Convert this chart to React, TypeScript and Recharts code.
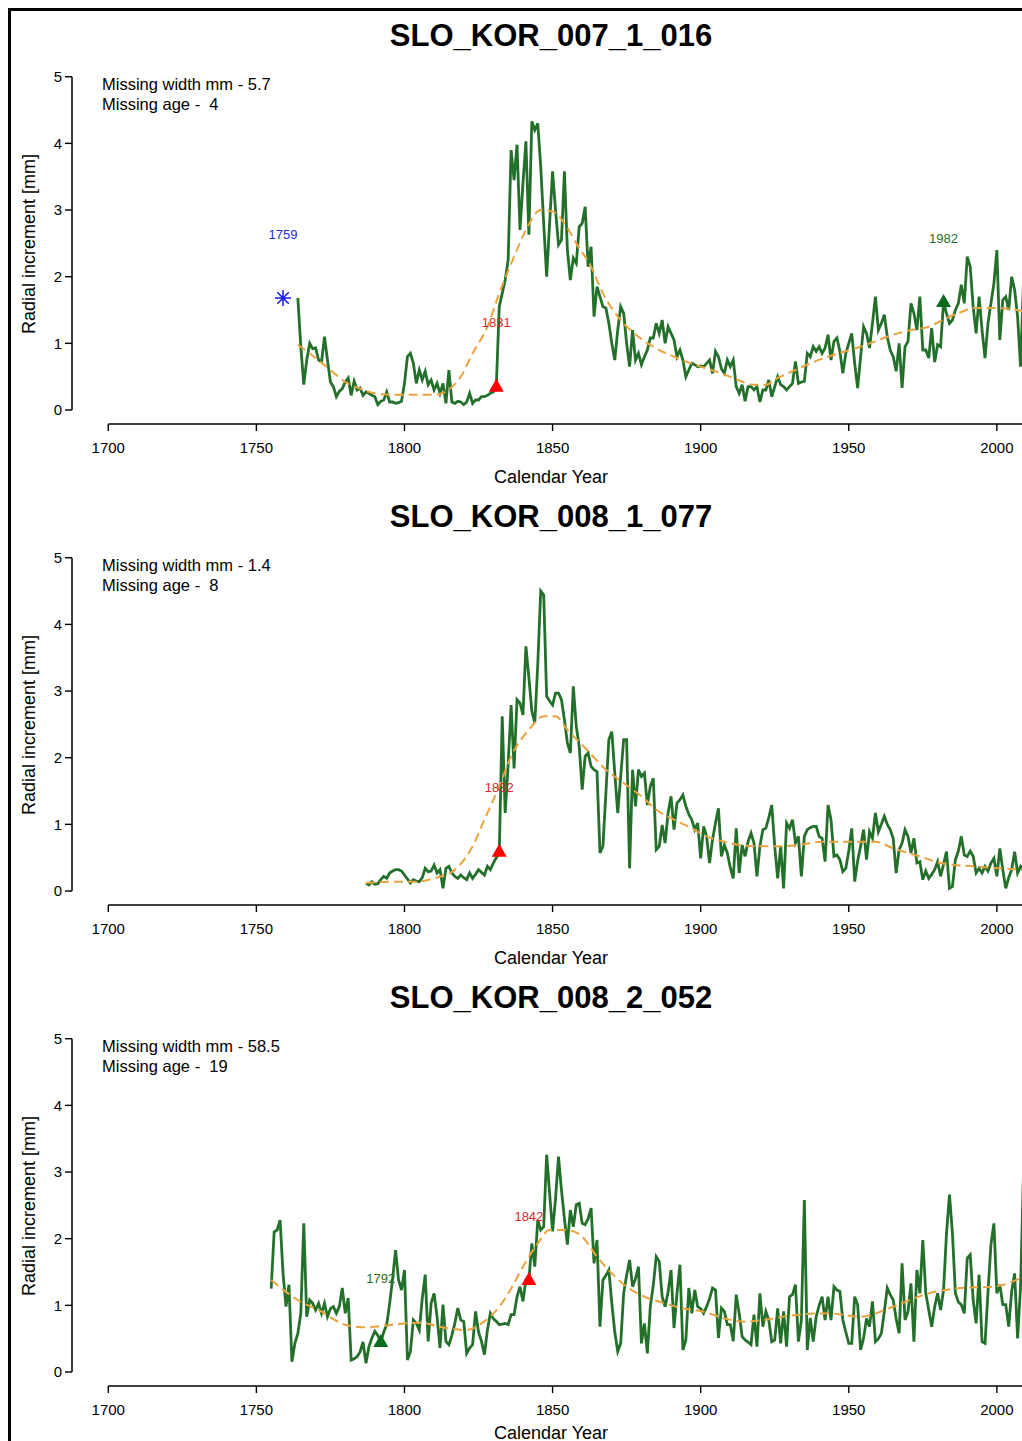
import { ComposedChart, Line, Scatter, XAxis, YAxis, ReferenceLine } from "recharts";

// axis ticks
const xTicks = [1700, 1750, 1800, 1850, 1900, 1950, 2000];
const yTicks = [0, 1, 2, 3, 4, 5];

// panel headings and notes
const titles = ["SLO_KOR_007_1_016", "SLO_KOR_008_1_077", "SLO_KOR_008_2_052"];
const missingWidth = ["5.7", "1.4", "58.5"];
const missingAge = ["4", "8", "19"];

// radial increments, one value per year
const firstYear1 = 1764;
const ring1 = [
  1.68, 0.95, 0.38, 0.75, 1.0, 0.92, 0.93, 0.75, 0.72, 1.1,
  0.75, 0.42, 0.35, 0.2, 0.28, 0.32, 0.42, 0.48, 0.22, 0.43,
  0.3, 0.33, 0.22, 0.27, 0.25, 0.22, 0.2, 0.08, 0.13, 0.15,
  0.27, 0.12, 0.12, 0.1, 0.11, 0.13, 0.4, 0.8, 0.85, 0.7,
  0.4, 0.6, 0.45, 0.58, 0.38, 0.45, 0.3, 0.4, 0.25, 0.4,
  0.1, 0.6, 0.12, 0.1, 0.13, 0.12, 0.08, 0.12, 0.25, 0.1,
  0.15, 0.15, 0.2, 0.2, 0.22, 0.25, 0.27, 0.35, 1.55, 1.75,
  1.95, 2.25, 3.9, 3.45, 3.98, 2.7, 3.4, 4.03, 2.63, 4.33,
  4.2, 4.3, 3.65, 2.8, 2.0, 2.8, 3.58, 3.0, 2.48, 2.55,
  3.58, 2.4, 1.95, 2.28, 2.2, 2.75, 2.8, 3.05, 2.15, 2.45,
  1.4, 1.85, 1.7, 1.55, 1.53, 1.3, 1.0, 0.75, 1.2, 1.55,
  1.45, 1.0, 0.65, 1.2, 0.75, 0.85, 0.68, 0.8, 0.9, 1.08,
  1.08, 1.3, 1.15, 1.35, 1.0, 1.25, 1.15, 1.05, 0.8, 0.9,
  0.75, 0.5, 0.6, 0.7, 0.68, 0.65, 0.66, 0.65, 0.7, 0.75,
  0.55, 0.88, 0.8, 0.62, 0.55, 0.75, 0.65, 0.75, 0.35, 0.25,
  0.38, 0.13, 0.35, 0.35, 0.3, 0.35, 0.12, 0.3, 0.3, 0.45,
  0.2, 0.35, 0.5, 0.38, 0.35, 0.3, 0.35, 0.4, 0.73, 0.4,
  0.42, 0.43, 0.85, 0.8, 0.95, 0.88, 0.95, 0.85, 0.93, 1.13,
  0.75, 1.03, 1.08, 0.88, 0.55, 0.85, 1.0, 1.15, 0.7, 0.33,
  0.8, 1.25, 1.15, 0.93, 1.3, 1.7, 1.2, 1.3, 1.43, 1.1,
  0.9, 0.8, 0.58, 1.0, 0.33, 0.95, 1.03, 1.6, 1.45, 1.2,
  1.7, 0.9, 0.9, 0.78, 1.23, 0.72, 0.98, 0.95, 1.62, 1.45,
  1.3, 1.35, 1.5, 1.6, 1.88, 1.6, 2.3, 2.15, 1.55, 1.15,
  1.7, 1.2, 0.78, 1.3, 1.6, 1.9, 2.4, 1.05, 1.65, 1.7,
  1.5, 2.0, 1.8, 1.4, 0.65, 1.95,
];

const firstYear2 = 1787;
const ring2 = [
  0.12, 0.09, 0.14, 0.1, 0.11, 0.17, 0.22, 0.19, 0.27, 0.3,
  0.32, 0.32, 0.3, 0.24, 0.18, 0.12, 0.17, 0.15, 0.14, 0.2,
  0.34, 0.29, 0.3, 0.39, 0.27, 0.32, 0.04, 0.34, 0.37, 0.27,
  0.22, 0.19, 0.24, 0.2, 0.17, 0.27, 0.19, 0.25, 0.32, 0.28,
  0.24, 0.37, 0.32, 0.42, 0.5, 0.57, 2.62, 1.17, 1.9, 2.79,
  1.84, 2.87, 2.82, 2.64, 3.67, 3.2, 2.7, 2.52, 3.4, 4.5,
  4.44, 2.92, 2.85, 2.79, 2.97, 2.97, 2.87, 2.57, 2.22, 2.07,
  3.07, 2.47, 2.17, 1.52, 2.02, 2.07, 1.87, 1.82, 1.79, 0.57,
  0.67, 1.47, 2.27, 2.39, 1.77, 1.17, 1.72, 2.27, 2.27, 0.34,
  1.82, 1.27, 1.82, 1.72, 1.77, 1.29, 1.57, 1.69, 0.62, 0.67,
  0.99, 0.72, 1.17, 1.42, 0.92, 1.32, 1.37, 1.44, 1.27, 1.15,
  1.07, 0.92, 1.02, 0.49, 0.97, 0.82, 0.42, 0.77, 1.02, 1.24,
  0.52, 0.69, 0.57, 0.35, 0.19, 0.94, 0.27, 0.69, 0.52, 0.74,
  0.87, 0.72, 0.22, 0.67, 0.92, 0.94, 1.1, 1.29, 0.67, 0.19,
  0.67, 0.04, 1.02, 0.94, 1.07, 0.72, 0.82, 0.22, 0.82, 0.92,
  0.95, 0.97, 0.97, 0.82, 0.79, 0.44, 1.29, 1.07, 0.52, 0.54,
  0.47, 0.29, 0.34, 0.6, 0.94, 0.14, 0.45, 0.67, 0.92, 0.47,
  0.89, 0.79, 1.17, 0.89, 1.0, 1.12, 1.0, 0.92, 0.79, 0.27,
  0.62, 0.72, 0.92, 0.82, 0.57, 0.79, 0.42, 0.44, 0.17, 0.3,
  0.19, 0.25, 0.32, 0.44, 0.22, 0.4, 0.59, 0.04, 0.07, 0.47,
  0.6, 0.82, 0.54, 0.52, 0.6, 0.52, 0.27, 0.34, 0.27, 0.37,
  0.3, 0.42, 0.49, 0.22, 0.64, 0.32, 0.04, 0.2, 0.32, 0.59,
  0.27, 0.37, 0.3,
];

const firstYear3 = 1755;
const ring3 = [
  1.25, 2.1, 2.13, 2.28, 1.48, 0.98, 1.31, 0.155, 0.43, 0.58,
  0.88, 2.23, 0.83, 1.08, 1.03, 0.93, 1.03, 0.88, 1.03, 0.83,
  0.95, 0.98, 0.88, 0.98, 1.26, 0.88, 1.11, 0.18, 0.2, 0.23,
  0.3, 0.45, 0.13, 0.38, 0.51, 0.61, 0.55, 0.45, 0.6, 0.71,
  1.03, 1.4, 1.83, 1.38, 1.23, 1.53, 0.18, 0.31, 0.78, 0.73,
  0.63, 1.1, 1.46, 0.46, 1.03, 1.18, 0.83, 0.36, 1.01, 0.46,
  0.41, 0.55, 0.73, 0.96, 0.78, 0.76, 0.28, 0.36, 0.41, 0.91,
  0.6, 0.46, 0.26, 0.63, 0.88, 0.8, 0.76, 0.71, 0.72, 0.73,
  0.71, 0.86, 0.86, 1.13, 1.28, 1.06, 1.38, 1.38, 1.93, 1.58,
  2.28, 2.13, 2.18, 3.26, 2.68, 2.11, 2.6, 3.23, 2.73, 2.3,
  1.91, 2.43, 2.18, 2.51, 2.53, 2.23, 2.21, 2.3, 2.46, 1.63,
  1.98, 0.68, 1.38, 1.45, 1.53, 1.03, 0.6, 0.31, 0.43, 1.18,
  1.45, 1.68, 1.28, 1.4, 1.58, 0.43, 0.73, 0.28, 0.98, 1.3,
  1.73, 1.66, 1.13, 0.98, 1.2, 1.53, 0.66, 1.18, 1.61, 0.33,
  0.48, 1.26, 0.88, 1.23, 0.98, 0.95, 0.88, 0.98, 1.1, 1.26,
  1.23, 0.51, 0.96, 0.91, 0.71, 0.71, 0.46, 1.16, 0.88, 0.53,
  0.48, 0.45, 0.41, 0.86, 0.38, 1.18, 0.68, 0.91, 0.78, 0.455,
  0.48, 0.955, 0.43, 0.91, 0.38, 1.13, 1.16, 1.31, 0.455, 0.78,
  2.58, 0.33, 0.81, 0.455, 0.83, 1.0, 1.13, 0.78, 1.13, 0.78,
  1.28, 1.23, 1.21, 0.78, 0.6, 0.43, 0.43, 1.13, 1.01, 0.33,
  0.505, 0.805, 0.68, 1.06, 0.455, 0.5, 0.58, 0.905, 1.26, 1.16,
  1.08, 0.8, 0.58, 1.63, 0.78, 0.905, 1.33, 0.455, 1.53, 1.18,
  1.98, 1.18, 0.93, 0.68, 0.98, 1.18, 0.93, 1.23, 2.08, 2.66,
  2.08, 1.18, 1.05, 1.01, 0.88, 1.71, 1.76, 1.08, 0.73, 1.46,
  0.455, 0.43, 1.2, 1.91, 2.23, 1.18, 1.31, 1.01, 1.01, 0.68,
  1.21, 1.48, 0.505, 1.28, 3.01,
];

// smoothed growth trend (dashed)
const smoothYears1 = [1764, 1770, 1775, 1780, 1785, 1790, 1795, 1800, 1805, 1810, 1814, 1819, 1823, 1828, 1832, 1837, 1841, 1846, 1850, 1854, 1858, 1863, 1867, 1873, 1879, 1884, 1891, 1898, 1905, 1911, 1918, 1922, 1926, 1932, 1937, 1943, 1948, 1954, 1960, 1965, 1971, 1977, 1983, 1988, 1992, 1999, 2004, 2009];
const smooth1 = [0.98, 0.78, 0.6, 0.42, 0.32, 0.25, 0.23, 0.23, 0.23, 0.23, 0.28, 0.5, 0.85, 1.25, 1.75, 2.3, 2.7, 3.0, 2.98, 2.8, 2.5, 2.15, 1.75, 1.35, 1.1, 0.95, 0.8, 0.68, 0.58, 0.48, 0.38, 0.38, 0.48, 0.6, 0.7, 0.8, 0.87, 0.95, 1.05, 1.13, 1.2, 1.25, 1.38, 1.47, 1.53, 1.53, 1.52, 1.48];

const smoothYears2 = [1787, 1795, 1804, 1810, 1817, 1823, 1827, 1832, 1836, 1842, 1847, 1851, 1855, 1862, 1868, 1874, 1880, 1885, 1891, 1897, 1902, 1908, 1913, 1919, 1926, 1933, 1941, 1952, 1959, 1965, 1974, 1981, 1992, 2001, 2009];
const smooth2 = [0.12, 0.14, 0.14, 0.19, 0.32, 0.67, 1.07, 1.57, 2.02, 2.42, 2.62, 2.62, 2.42, 2.1, 1.82, 1.62, 1.42, 1.22, 1.07, 0.94, 0.82, 0.74, 0.69, 0.67, 0.67, 0.69, 0.74, 0.74, 0.74, 0.64, 0.52, 0.42, 0.37, 0.34, 0.32];

const smoothYears3 = [1755, 1764, 1771, 1780, 1787, 1796, 1805, 1814, 1821, 1826, 1832, 1836, 1840, 1845, 1849, 1855, 1860, 1865, 1870, 1875, 1881, 1888, 1894, 1901, 1908, 1915, 1921, 1932, 1943, 1954, 1965, 1977, 1988, 1999, 2009];
const smooth3 = [1.38, 1.08, 0.93, 0.71, 0.67, 0.71, 0.74, 0.66, 0.63, 0.73, 0.98, 1.25, 1.58, 1.93, 2.13, 2.13, 2.03, 1.73, 1.48, 1.28, 1.13, 1.03, 0.955, 0.905, 0.805, 0.755, 0.78, 0.855, 0.88, 0.83, 0.98, 1.18, 1.26, 1.28, 1.43];

// marked years: pith estimate (star), release (red), other event (green)
const marks1 = [
  { year: 1759, value: 1.68, kind: "pith" },
  { year: 1831, value: 0.35, kind: "release" },
  { year: 1982, value: 1.62, kind: "event" },
];
const marks2 = [{ year: 1832, value: 0.59, kind: "release" }];
const marks3 = [
  { year: 1792, value: 0.45, kind: "event" },
  { year: 1842, value: 1.38, kind: "release" },
];

const FONT = '"Liberation Sans", Arial, Helvetica, sans-serif';
const X_DOMAIN = [1687.75, 2012.2];
const Y_DOMAIN = [-0.21, 5.2];
const GREEN = "#23702b";
const ORANGE = "#eaa23c";

const markColor: Record<string, string> = { pith: "#1414f0", release: "#ff0000", event: "#0b6a1e" };
const labelColor: Record<string, string> = { pith: "#2c2cc8", release: "#d62a2a", event: "#1f6e27" };

const byYear = (start: number, vals: number[]) => vals.map((v, i) => ({ year: start + i, value: v }));
const zip = (years: number[], vals: number[]) => years.map((y, i) => ({ year: y, value: vals[i] }));

const MarkerShape = (props: any) => {
  const { cx, cy, payload } = props;
  if (cx == null || cy == null) return null;
  const kind = payload.kind;
  const r = 8;
  const d = r * 0.72;
  return (
    <g>
      {kind === "pith" ? (
        <g stroke={markColor.pith} strokeWidth={1.5}>
          <line x1={cx - r} y1={cy} x2={cx + r} y2={cy} />
          <line x1={cx} y1={cy - r} x2={cx} y2={cy + r} />
          <line x1={cx - d} y1={cy - d} x2={cx + d} y2={cy + d} />
          <line x1={cx - d} y1={cy + d} x2={cx + d} y2={cy - d} />
        </g>
      ) : (
        <polygon
          points={`${cx},${cy - 8} ${cx - 7.5},${cy + 5} ${cx + 7.5},${cy + 5}`}
          fill={markColor[kind]}
        />
      )}
      <text x={cx} y={cy - 59.5} textAnchor="middle" fontSize={13} fill={labelColor[kind]} fontFamily={FONT}>
        {payload.year}
      </text>
    </g>
  );
};

const Panel = ({ title, width, age, ring, smooth, marks, xLabelShift }: any) => (
  <div style={{ position: "relative", width: 1025, height: 481 }}>
    <ComposedChart width={1025} height={481} margin={{ top: 55.4, right: 0, bottom: 25, left: 0 }}>
      <XAxis
        type="number"
        dataKey="year"
        domain={X_DOMAIN}
        allowDataOverflow
        ticks={xTicks}
        interval={0}
        axisLine={false}
        tickLine={{ stroke: "#000", strokeWidth: 1.4 }}
        tickSize={7}
        tickMargin={11}
        height={40}
        tick={{ fontSize: 15, fill: "#000", fontFamily: FONT }}
      />
      <YAxis
        type="number"
        domain={Y_DOMAIN}
        allowDataOverflow
        ticks={yTicks}
        interval={0}
        axisLine={false}
        tickLine={{ stroke: "#000", strokeWidth: 1.4 }}
        tickSize={7}
        tickMargin={3}
        width={64}
        tick={{ fontSize: 15, fill: "#000", fontFamily: FONT }}
      />
      <ReferenceLine
        segment={[{ x: 1700, y: Y_DOMAIN[0] }, { x: X_DOMAIN[1], y: Y_DOMAIN[0] }]}
        stroke="#000"
        strokeWidth={1.5}
        ifOverflow="visible"
      />
      <ReferenceLine
        segment={[{ x: X_DOMAIN[0], y: 0 }, { x: X_DOMAIN[0], y: 5 }]}
        stroke="#000"
        strokeWidth={1.5}
        ifOverflow="visible"
      />
      <Line
        data={ring}
        dataKey="value"
        type="linear"
        stroke={GREEN}
        strokeWidth={2.8}
        dot={false}
        activeDot={false}
        isAnimationActive={false}
      />
      <Line
        data={smooth}
        dataKey="value"
        type="monotone"
        stroke={ORANGE}
        strokeWidth={2}
        strokeDasharray="9 5"
        dot={false}
        activeDot={false}
        isAnimationActive={false}
      />
      <Scatter data={marks} dataKey="value" shape={MarkerShape} isAnimationActive={false} />
    </ComposedChart>

    <div
      style={{
        position: "absolute", left: 0, top: 11.8, width: 1086, textAlign: "center",
        fontSize: 31, fontWeight: "bold", lineHeight: 1, color: "#000",
      }}
    >
      {title}
    </div>
    <div style={{ position: "absolute", left: 94, top: 67.3, fontSize: 16.5, lineHeight: "19.3px", whiteSpace: "pre", color: "#000" }}>
      {`Missing width mm - ${width}\nMissing age -  ${age}`}
    </div>
    <div
      style={{
        position: "absolute", left: 0, top: 459.5 - (xLabelShift || 0), width: 1086, textAlign: "center",
        fontSize: 18, lineHeight: 1, color: "#000",
      }}
    >
      Calendar Year
    </div>
    <div
      style={{
        position: "absolute", left: 21 - 150, top: 236 - 9, width: 300, height: 18, textAlign: "center",
        fontSize: 18, lineHeight: 1, transform: "rotate(-90deg)", color: "#000", whiteSpace: "nowrap",
      }}
    >
      Radial increment [mm]
    </div>
  </div>
);

export default function App() {
  const panels = [
    { ring: byYear(firstYear1, ring1), smooth: zip(smoothYears1, smooth1), marks: marks1 },
    { ring: byYear(firstYear2, ring2), smooth: zip(smoothYears2, smooth2), marks: marks2 },
    { ring: byYear(firstYear3, ring3), smooth: zip(smoothYears3, smooth3), marks: marks3 },
  ];
  return (
    <>
      <style>{"html,body{margin:0;padding:0;overflow:hidden;background:#fff}"}</style>
      <div
        style={{
          position: "fixed", left: 8, top: 8, width: 1014, height: 1433, overflow: "hidden",
          boxShadow: "inset 3px 3px 0 #000", fontFamily: FONT, background: "#fff",
        }}
      >
        {panels.map((p, i) => (
          <Panel
            key={titles[i]}
            title={titles[i]}
            width={missingWidth[i]}
            age={missingAge[i]}
            ring={p.ring}
            smooth={p.smooth}
            marks={p.marks}
            xLabelShift={i === 2 ? 6 : 0}
          />
        ))}
      </div>
    </>
  );
}
